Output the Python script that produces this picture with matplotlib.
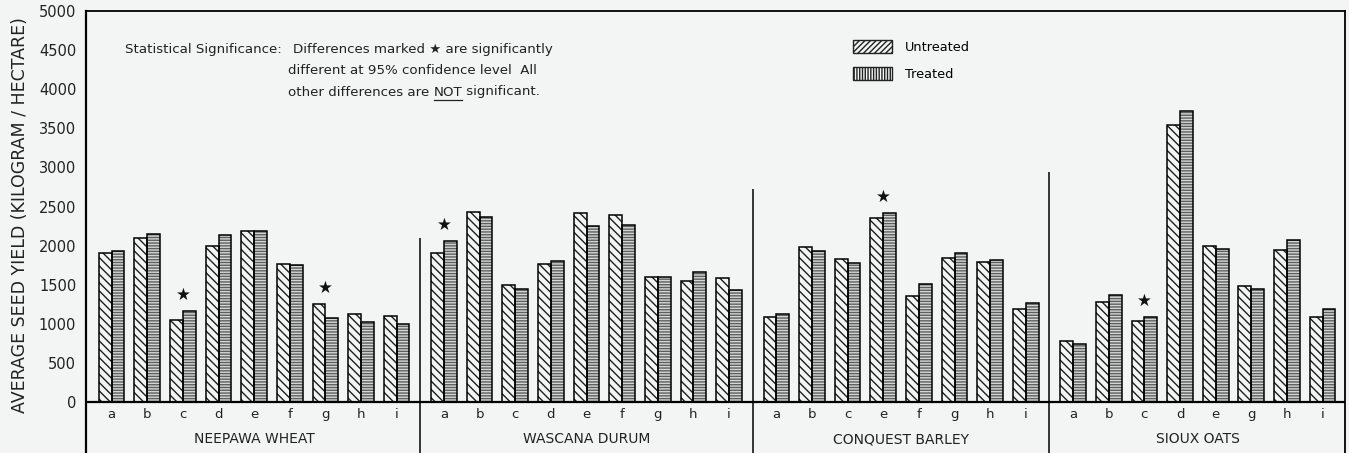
import matplotlib
matplotlib.use("Agg")
import matplotlib.pyplot as plt
from matplotlib.patches import Patch
from matplotlib.lines import Line2D

# ---------------- data ----------------
group_names = ["NEEPAWA WHEAT", "WASCANA DURUM", "CONQUEST BARLEY", "SIOUX OATS"]

neepawa_cats = ["a", "b", "c", "d", "e", "f", "g", "h", "i"]
neepawa_untreated = [1900, 2100, 1050, 2000, 2190, 1770, 1250, 1120, 1100]
neepawa_treated = [1930, 2150, 1165, 2130, 2190, 1755, 1075, 1025, 1000]
neepawa_stars = ["c", "g"]

wascana_cats = ["a", "b", "c", "d", "e", "f", "g", "h", "i"]
wascana_untreated = [1900, 2425, 1490, 1765, 2420, 2395, 1595, 1545, 1580]
wascana_treated = [2055, 2370, 1445, 1800, 2245, 2260, 1595, 1665, 1435]
wascana_stars = ["a"]

conquest_cats = ["a", "b", "c", "e", "f", "g", "h", "i"]
conquest_untreated = [1090, 1985, 1830, 2355, 1355, 1840, 1795, 1190]
conquest_treated = [1130, 1935, 1780, 2415, 1510, 1905, 1815, 1265]
conquest_stars = ["e"]

sioux_cats = ["a", "b", "c", "d", "e", "g", "h", "i"]
sioux_untreated = [780, 1285, 1040, 3540, 1990, 1485, 1945, 1090]
sioux_treated = [740, 1370, 1090, 3715, 1955, 1440, 2075, 1190]
sioux_stars = ["c"]

ytick_values = [0, 500, 1000, 1500, 2000, 2500, 3000, 3500, 4000, 4500, 5000]

groups = [
    (neepawa_cats, neepawa_untreated, neepawa_treated, neepawa_stars),
    (wascana_cats, wascana_untreated, wascana_treated, wascana_stars),
    (conquest_cats, conquest_untreated, conquest_treated, conquest_stars),
    (sioux_cats, sioux_untreated, sioux_treated, sioux_stars),
]

# ---------------- style ----------------
BG = "#f3f4f4"
plt.rcParams["font.family"] = ["DejaVu Sans"]
plt.rcParams["hatch.linewidth"] = 1.0

W, H = 1349, 453
fig = plt.figure(figsize=(W / 100, H / 100), dpi=100, facecolor=BG)
ax = fig.add_axes([86 / W, 0.0, 1259 / W, 1 - 11 / H])
ax.set_facecolor(BG)

GAP = 1.33
BAR_W = 0.36
YMIN, YMAX = -652, 5000
separator_tops = [2095, 2725, 2940]

offset = 0.0
sep_x = []
for gi, (cats, unt, trt, stars) in enumerate(groups):
    xs = [offset + k for k in range(len(cats))]
    # untreated: diagonal hatch
    ax.bar([x - BAR_W / 2 for x in xs], unt, width=BAR_W, facecolor=BG,
           edgecolor="#1e1e1e", hatch="\\\\\\\\", linewidth=0, zorder=2)
    ax.bar([x - BAR_W / 2 for x in xs], unt, width=BAR_W, fill=False,
           edgecolor="black", linewidth=1.1, zorder=3)
    # treated: dense horizontal hatch
    ax.bar([x + BAR_W / 2 for x in xs], trt, width=BAR_W, facecolor="#d4d5d5",
           edgecolor="#5e5e5e", hatch="------", linewidth=0, zorder=2)
    ax.bar([x + BAR_W / 2 for x in xs], trt, width=BAR_W, fill=False,
           edgecolor="black", linewidth=1.1, zorder=3)
    for x, c, u, t in zip(xs, cats, unt, trt):
        ax.text(x, -166, c, ha="center", va="center", fontsize=9.5, color="#222")
        if c in stars:
            ax.annotate("\u2605", (x, max(u, t)), xytext=(0, 5),
                        textcoords="offset points", ha="center", va="bottom",
                        fontsize=12, color="#111")
    ax.text((xs[0] + xs[-1]) / 2, -473, group_names[gi], ha="center",
            va="center", fontsize=10, color="#222")
    if gi < len(groups) - 1:
        sep_x.append(xs[-1] + GAP / 2)
    offset = xs[-1] + GAP

for sx, top in zip(sep_x, separator_tops):
    ax.vlines(sx, YMIN, top, color="black", linewidth=1.1, zorder=4)

ax.axhline(0, color="black", linewidth=1.6, zorder=5)

ax.set_xlim(-0.72, offset - GAP + 0.63)
ax.set_ylim(YMIN, YMAX)
ax.set_xticks([])
ax.set_yticks(ytick_values)
ax.set_yticklabels([str(v) for v in ytick_values], fontsize=10.5, color="#222")
ax.tick_params(axis="y", length=0, pad=7)
ax.spines["bottom"].set_visible(False)
ax.spines["left"].set_linewidth(1.6)
ax.spines["top"].set_linewidth(1.3)
ax.spines["right"].set_linewidth(1.3)

fig.text(20 / W, 1 - 215 / H, "AVERAGE SEED YIELD (KILOGRAM / HECTARE)",
         rotation=90, ha="center", va="center", fontsize=12.5, color="#222")

# legend
handles = [
    Patch(facecolor=BG, edgecolor="#222", hatch="//////", linewidth=1.0, label="Untreated"),
    Patch(facecolor=BG, edgecolor="#222", hatch="||||||", linewidth=1.0, label="Treated"),
]
fig.legend(handles=handles, loc="upper left",
           bbox_to_anchor=(853 / W, 1 - 40 / H), frameon=False, fontsize=9.3,
           handlelength=3.0, handleheight=1.2, handletextpad=1.0,
           labelspacing=1.0, borderpad=0, borderaxespad=0)

# significance note
tcol = "#222"
fs = 9.6
fig.text(125 / W, 1 - 49 / H, "Statistical Significance:", ha="left", va="center",
         fontsize=fs, color=tcol)
fig.text(293 / W, 1 - 49 / H, "Differences marked \u2605 are significantly",
         ha="left", va="center", fontsize=fs, color=tcol)
fig.text(288 / W, 1 - 70 / H, "different at 95% confidence level  All",
         ha="left", va="center", fontsize=fs, color=tcol)
t1 = fig.text(288 / W, 1 - 92 / H, "other differences are ", ha="left",
              va="center", fontsize=fs, color=tcol)
fig.canvas.draw()
r = fig.canvas.get_renderer()
b1 = t1.get_window_extent(r)
t2 = fig.text(b1.x1 / W, 1 - 92 / H, "NOT", ha="left", va="center",
              fontsize=fs, color=tcol)
b2 = t2.get_window_extent(r)
fig.add_artist(Line2D([b2.x0 / W, b2.x1 / W], [(b2.y0 - 1) / H, (b2.y0 - 1) / H],
                      color=tcol, linewidth=0.9, transform=fig.transFigure))
fig.text(b2.x1 / W, 1 - 92 / H, " significant.", ha="left", va="center",
         fontsize=fs, color=tcol)

fig.savefig("out.png", dpi=100, facecolor=BG)
